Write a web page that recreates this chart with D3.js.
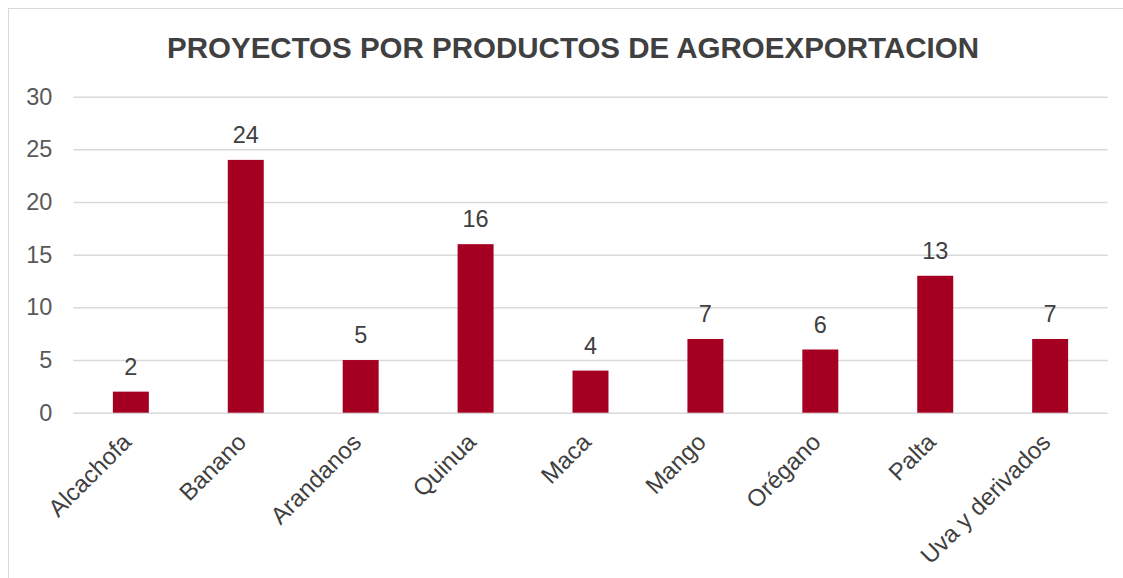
<!DOCTYPE html>
<html>
<head>
<meta charset="utf-8">
<script src="https://cdn.jsdelivr.net/npm/d3@7"></script>
<style>
  html, body { margin: 0; padding: 0; background: #fff; }
  svg { display: block; }
  text { font-family: "Liberation Sans", Arial, sans-serif; }
</style>
</head>
<body>
<svg id="chart" width="1123" height="578"></svg>
<script>
const title = "PROYECTOS POR PRODUCTOS DE AGROEXPORTACION";
const categories = ["Alcachofa", "Banano", "Arandanos", "Quinua", "Maca", "Mango", "Orégano", "Palta", "Uva y derivados"];
const values = [2, 24, 5, 16, 4, 7, 6, 13, 7];
const yTicks = [0, 5, 10, 15, 20, 25, 30];

const svg = d3.select("#chart");
const W = 1123, H = 578;
const plot = { left: 73.4, right: 1107.6, top: 96.7, bottom: 412.7 };

svg.append("rect").attr("x", 8.5).attr("y", 8.5).attr("width", 1300).attr("height", 700)
  .attr("fill", "none").attr("stroke", "#d9d9d9").attr("stroke-width", 1);

const x = d3.scaleBand().domain(categories).range([plot.left, plot.right])
  .paddingInner(0.687).paddingOuter(0.3435);
const y = d3.scaleLinear().domain([0, 30]).range([plot.bottom, plot.top]);

// gridlines
const yAxis = d3.axisLeft(y).tickValues(yTicks).tickSize(-(plot.right - plot.left)).tickPadding(20);
const gy = svg.append("g").attr("transform", `translate(${plot.left},0)`).call(yAxis);
gy.select(".domain").remove();
gy.selectAll(".tick line").attr("stroke", "#d9d9d9").attr("stroke-width", 1.5);
gy.selectAll(".tick text").attr("fill", "#595959").attr("font-size", 23.5)
  .attr("x", -21).attr("text-anchor", "end");

// bars
svg.append("g").selectAll("rect").data(values).join("rect")
  .attr("x", (d, i) => x(categories[i]))
  .attr("width", x.bandwidth())
  .attr("y", d => y(d))
  .attr("height", d => y(0) - y(d))
  .attr("fill", "#a50021");

// value labels
svg.append("g").selectAll("text").data(values).join("text")
  .attr("x", (d, i) => x(categories[i]) + x.bandwidth() / 2)
  .attr("y", d => y(d) - 17)
  .attr("text-anchor", "middle")
  .attr("font-size", 23.5)
  .attr("fill", "#404040")
  .text(d => d);

// x axis labels
const xAxis = d3.axisBottom(x).tickSize(0).tickPadding(0);
const gx = svg.append("g").attr("transform", `translate(0,${plot.bottom})`).call(xAxis);
gx.select(".domain").remove();
gx.selectAll(".tick text")
  .attr("font-size", 24)
  .attr("fill", "#404040")
  .attr("text-anchor", "end")
  .attr("dy", "0.35em")
  .attr("y", 0)
  .attr("transform", "translate(-4,25) rotate(-45)");

// title
svg.append("text").attr("x", 573).attr("y", 58)
  .attr("text-anchor", "middle").attr("font-size", 29.5).attr("font-weight", "bold")
  .attr("fill", "#404040").text(title);
</script>
</body>
</html>
